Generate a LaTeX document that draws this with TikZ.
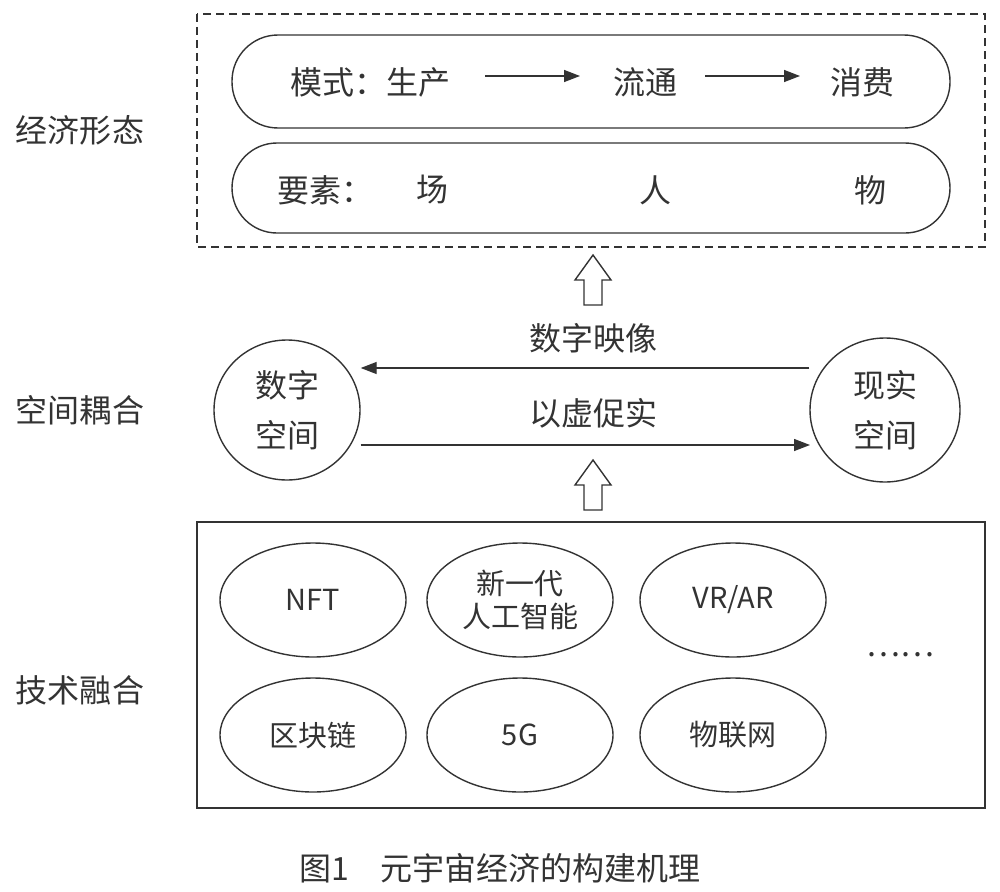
\documentclass[tikz,border=0pt]{standalone}
\usepackage{fontspec}
\setmainfont{Noto Sans CJK SC}
\usetikzlibrary{arrows.meta,shapes.geometric}
\begin{document}
\begin{tikzpicture}[x=1pt,y=-1pt,
  every node/.style={text=black!80,font=\fontsize{32}{36}\selectfont},
  line/.style={draw=black!80,line width=1.4pt},
  ell/.style={line,ellipse,minimum width=186pt,minimum height=114pt,align=center,font=\fontsize{29}{33}\selectfont},
  big/.style={line,ellipse,align=center,inner sep=0pt},
  arr/.style={line,-{Triangle[length=16pt,width=12pt]}},
  hollow/.pic={\draw[line,fill=white] (-9,25) -- (-9,0) -- (-18,0) -- (0,-25) -- (18,0) -- (9,0) -- (9,25) -- cycle;}]
\useasboundingbox (0,0) rectangle (1000,891);
\draw[line,dash pattern=on 8pt off 5pt] (197,14) rectangle (985,247);
\draw[line,rounded corners=46pt] (232,35) rectangle (950,128);
\draw[line,rounded corners=45pt] (232,143) rectangle (950,233);
\node (m1) at (370,82) {模式：生产};
\node (m2) at (645,82) {流通};
\node (m3) at (862,82) {消费};
\draw[arr] (485,76) coordinate (a1) -- (580,76) coordinate (a2);
\draw[arr] (705,76) coordinate (b1) -- (800,76) coordinate (b2);
\node (y0) at (325,190) {要素：};
\node (y1) at (432,190) {场};
\node (y2) at (655,190) {人};
\node (y3) at (870,190) {物};
\node (l1) at (80,130) {经济形态};
\node (l2) at (80,410) {空间耦合};
\node (l3) at (80,690) {技术融合};
\pic at (593,280) {hollow};
\pic at (593,485) {hollow};
\node[big,minimum width=146pt,minimum height=140pt] (ds) at (287,410) {数字\\[14pt]空间};
\node[big,minimum width=150pt,minimum height=144pt] (xs) at (885,410) {现实\\[14pt]空间};
\draw[arr] (xs.west|-0,368) -- (ds.east|-0,368);
\draw[arr] (ds.east|-0,445) -- (810,445);
\node (t1) at (593,338) {数字映像};
\node (t2) at (593,413) {以虚促实};
\draw[line] (197,522) rectangle (985,808);
\node[ell] (e1) at (313,600) {NFT};
\node[ell] (e2) at (520,600) {新一代\\人工智能};
\node[ell] (e3) at (733,600) {VR/AR};
\node[ell] (e4) at (313,735) {区块链};
\node[ell] (e5) at (520,735) {5G};
\node[ell] (e6) at (733,735) {物联网};
\node (dots) at (900,655) {……};
\node (cap) at (500,868) {图1\quad 元宇宙经济的构建机理};
\end{tikzpicture}
\end{document}
